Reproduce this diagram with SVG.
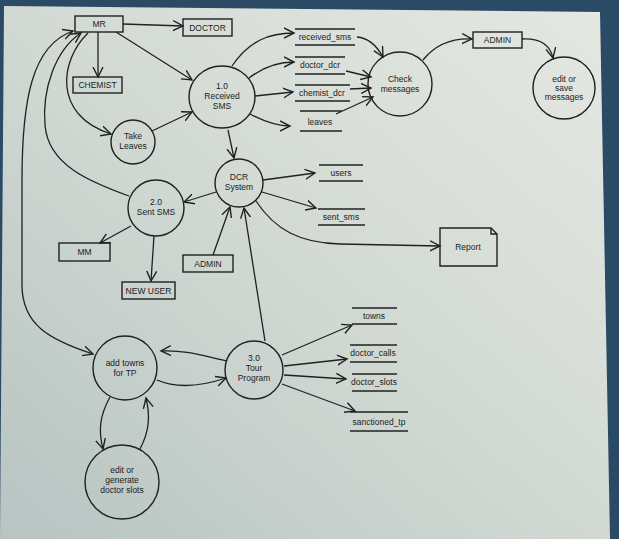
<svg xmlns="http://www.w3.org/2000/svg" width="619" height="539" viewBox="0 0 619 539">
<defs>
<linearGradient id="scr" x1="1" y1="0" x2="0" y2="1">
<stop offset="0" stop-color="#e6e8e2"/>
<stop offset="0.5" stop-color="#d2d9d3"/>
<stop offset="1" stop-color="#b7c4c2"/>
</linearGradient>
<marker id="ar" markerUnits="userSpaceOnUse" markerWidth="12" markerHeight="12" refX="10" refY="5" orient="auto-start-reverse" viewBox="0 0 12 10">
<path d="M0,0 L10,5 L0,10" fill="none" stroke="#1e2222" stroke-width="1.4"/>
</marker>
<style>
.ln{fill:none;stroke:#1e2222;stroke-width:1.3;marker-end:url(#ar)}
.nd{fill:none;stroke:#1e2222;stroke-width:1.4}
.st{stroke:#1e2222;stroke-width:1.3}
text{font-family:"Liberation Sans",Arial,sans-serif;font-size:8.5px;fill:#1a1d1d;text-anchor:middle}
</style>
</defs>
<rect width="619" height="539" fill="#2b4a66"/>
<polygon points="4,6 600,12 610,539 0,539" fill="url(#scr)"/>

<g id="connectors">
<path class="ln" d="M123,24 L183,26"/>
<path class="ln" d="M98,32 L98,77"/>
<path class="ln" d="M116,32 L192,80"/>
<path class="ln" d="M88,33 C60,60 52,115 111,134"/>
<path class="ln" d="M129,196 C90,182 48,165 45,125 C42,90 55,50 81,33"/>
<path class="ln" style="marker-start:url(#ar)" d="M73,31 C32,45 22,100 22,180 L22,285 C22,325 50,340 93,354"/>
<path class="ln" d="M152,131 L192,112"/>
<path class="ln" d="M232,66 C250,40 270,33 294,33"/>
<path class="ln" d="M249,78 C262,68 278,62 294,62"/>
<path class="ln" d="M255,96 L293,92"/>
<path class="ln" d="M250,114 C265,122 278,126 290,126"/>
<path class="ln" d="M357,37 C370,38 378,48 383,57"/>
<path class="ln" d="M346,71 L371,77"/>
<path class="ln" d="M350,89 L371,88"/>
<path class="ln" d="M336,114 L373,97"/>
<path class="ln" d="M423,60 C435,45 450,38 472,39"/>
<path class="ln" d="M522,39 C540,38 550,45 553,58"/>
<path class="ln" d="M228,130 L234,158"/>
<path class="ln" d="M263,180 L315,173"/>
<path class="ln" d="M262,192 L316,208"/>
<path class="ln" d="M256,201 C275,230 300,243 340,244 L440,246"/>
<path class="ln" d="M216,192 L184,202"/>
<path class="ln" d="M131,226 L100,243"/>
<path class="ln" d="M154,236 L151,281"/>
<path class="ln" d="M213,255 L230,207"/>
<path class="ln" d="M265,341 L244,208"/>
<path class="ln" d="M227,361 C200,355 185,350 161,351"/>
<path class="ln" d="M157,380 C180,390 205,385 226,378"/>
<path class="ln" d="M282,355 L352,325"/>
<path class="ln" d="M284,366 L347,359"/>
<path class="ln" d="M284,375 L346,379"/>
<path class="ln" d="M282,384 L355,411"/>
<path class="ln" d="M110,397 C100,415 98,430 103,449"/>
<path class="ln" d="M140,449 C150,430 150,415 146,398"/>
</g>

<g id="mr"><rect class="nd" x="75" y="16" width="48" height="16"/><text x="99" y="27">MR</text></g>
<g id="doctor"><rect class="nd" x="183" y="19" width="49" height="17"/><text x="207.5" y="30.5">DOCTOR</text></g>
<g id="chemist"><rect class="nd" x="73" y="77" width="49" height="16"/><text x="97.5" y="88">CHEMIST</text></g>
<g id="received-sms"><ellipse class="nd" cx="222" cy="97" rx="33" ry="31"/><text x="222" y="89">1.0</text><text x="222" y="99">Received</text><text x="222" y="109">SMS</text></g>
<g id="take-leaves"><circle class="nd" cx="133" cy="142" r="22"/><text x="133" y="139">Take</text><text x="133" y="149">Leaves</text></g>
<g id="dcr-system"><circle class="nd" cx="239" cy="183" r="24"/><text x="239" y="180">DCR</text><text x="239" y="190">System</text></g>
<g id="sent-sms"><circle class="nd" cx="156" cy="208" r="28"/><text x="156" y="205">2.0</text><text x="156" y="215">Sent SMS</text></g>
<g id="mm"><rect class="nd" x="59" y="243" width="51" height="18"/><text x="84.5" y="255">MM</text></g>
<g id="new-user"><rect class="nd" x="122" y="282" width="53" height="17"/><text x="148.5" y="293.5">NEW USER</text></g>
<g id="admin-bottom"><rect class="nd" x="183" y="255" width="50" height="17"/><text x="208" y="266.5">ADMIN</text></g>
<g id="admin-top"><rect class="nd" x="473" y="32" width="49" height="16"/><text x="497.5" y="43">ADMIN</text></g>
<g id="check-messages"><circle class="nd" cx="400" cy="84" r="32"/><text x="400" y="82">Check</text><text x="400" y="92">messages</text></g>
<g id="edit-save"><circle class="nd" cx="564" cy="88" r="31"/><text x="564" y="82">edit or</text><text x="564" y="91">save</text><text x="564" y="100">messages</text></g>
<g id="report"><path class="nd" d="M440,228 L491,228 L497,234 L497,266 L440,266 Z M491,228 L491,234 L497,234"/><text x="468" y="250">Report</text></g>
<g id="add-towns"><circle class="nd" cx="125" cy="368" r="32"/><text x="125" y="366">add towns</text><text x="125" y="376">for TP</text></g>
<g id="tour-program"><circle class="nd" cx="254" cy="370" r="29"/><text x="254" y="361">3.0</text><text x="254" y="371">Tour</text><text x="254" y="381">Program</text></g>
<g id="edit-slots"><circle class="nd" cx="122" cy="482" r="37"/><text x="122" y="473">edit or</text><text x="122" y="483">generate</text><text x="122" y="493">doctor slots</text></g>

<g id="store-received-sms"><line class="st" x1="295" y1="29" x2="355" y2="29"/><line class="st" x1="295" y1="45" x2="355" y2="45"/><text x="325" y="40">received_sms</text></g>
<g id="store-doctor-dcr"><line class="st" x1="295" y1="57" x2="345" y2="57"/><line class="st" x1="295" y1="74" x2="345" y2="74"/><text x="320" y="68">doctor_dcr</text></g>
<g id="store-chemist-dcr"><line class="st" x1="295" y1="85" x2="350" y2="85"/><line class="st" x1="295" y1="101" x2="350" y2="101"/><text x="322" y="96">chemist_dcr</text></g>
<g id="store-leaves"><line class="st" x1="300" y1="111" x2="342" y2="111"/><line class="st" x1="300" y1="131" x2="342" y2="131"/><text x="320" y="125">leaves</text></g>
<g id="store-users"><line class="st" x1="319" y1="165" x2="363" y2="165"/><line class="st" x1="319" y1="181" x2="363" y2="181"/><text x="341" y="176">users</text></g>
<g id="store-sent-sms"><line class="st" x1="318" y1="209" x2="365" y2="209"/><line class="st" x1="318" y1="225" x2="365" y2="225"/><text x="341" y="220">sent_sms</text></g>
<g id="store-towns"><line class="st" x1="352" y1="308" x2="397" y2="308"/><line class="st" x1="352" y1="324" x2="397" y2="324"/><text x="374" y="319">towns</text></g>
<g id="store-doctor-calls"><line class="st" x1="350" y1="345" x2="397" y2="345"/><line class="st" x1="350" y1="362" x2="397" y2="362"/><text x="373" y="356">doctor_calls</text></g>
<g id="store-doctor-slots"><line class="st" x1="352" y1="374" x2="397" y2="374"/><line class="st" x1="352" y1="391" x2="397" y2="391"/><text x="374" y="385">doctor_slots</text></g>
<g id="store-sanctioned-tp"><line class="st" x1="350" y1="412" x2="408" y2="412"/><line class="st" x1="350" y1="431" x2="408" y2="431"/><text x="379" y="425">sanctioned_tp</text></g>
</svg>
